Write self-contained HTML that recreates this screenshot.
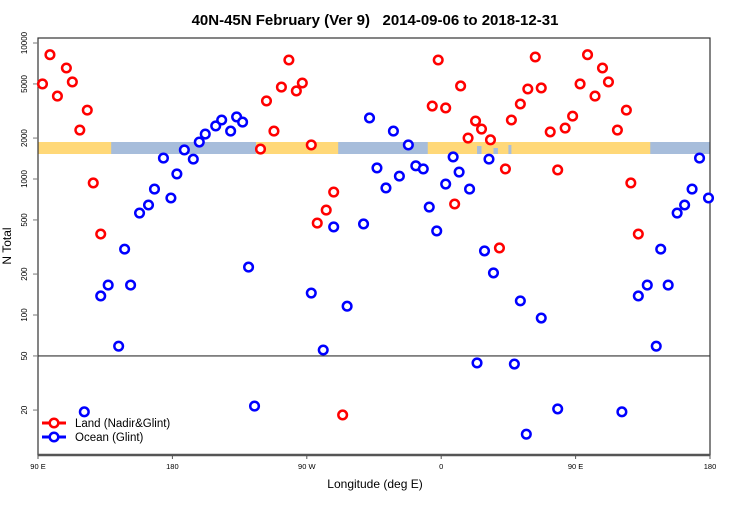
<!DOCTYPE html>
<html><head><meta charset="utf-8"><style>
body{margin:0;background:#fff;}
svg text{font-family:"Liberation Sans",sans-serif;}
</style></head><body>
<svg id="chart" width="750" height="500" xmlns="http://www.w3.org/2000/svg">
<text x="375" y="25" text-anchor="middle" font-size="15" font-weight="bold" style="white-space:pre">40N-45N February (Ver 9)   2014-09-06 to 2018-12-31</text>
<text transform="translate(11,246) rotate(-90)" text-anchor="middle" font-size="12">N Total</text>
<text x="375" y="488" text-anchor="middle" font-size="12">Longitude (deg E)</text>
<g id="band"></g>
<g id="axes"></g>
<g id="marks"></g>
<g>
<line x1="42" y1="423" x2="66" y2="423" stroke="#f00" stroke-width="3"/>
<circle cx="54" cy="423" r="4.3" fill="#fff" stroke="#f00" stroke-width="2.5"/>
<text x="75" y="427" font-size="11.5">Land (Nadir&amp;Glint)</text>
<line x1="42" y1="437" x2="66" y2="437" stroke="#00f" stroke-width="3"/>
<circle cx="54" cy="437" r="4.3" fill="#fff" stroke="#00f" stroke-width="2.5"/>
<text x="75" y="441" font-size="11.5">Ocean (Glint)</text>
</g>
</svg>
<script>
// longitude measured continuously from 90E (90..540 deg)
const landLon=[93,98,103,109,113,118,123,127,132,239,243,248,253,258,263,267,273,277,283,288,294,354,358,363,369,373,378,383,387,393,399,403,407,413,418,423,427,433,438,443,448,453,458,463,468,472,478,484,487,492];
const landN=[5000,8200,4070,6550,5170,2290,3210,935,394,1660,3750,2250,4740,7500,4440,5080,1780,474,591,802,18.4,3440,7500,3330,655,4830,2000,2670,2330,1940,311,1186,2715,3560,4590,7890,4670,2220,1165,2370,2900,5000,8200,4070,6550,5170,2290,3210,935,394];
const oceanLon=[121,132,137,144,148,152,158,164,168,174,179,183,188,194,198,202,209,213,219,223,227,231,235,273,281,288,297,308,312,317,323,328,332,338,343,348,352,357,363,368,372,379,384,389,392,395,409,413,417,427,438,481,492,498,504,507,512,518,523,528,533,539];
const oceanN=[19.4,138,166,59,305,166,562,644,843,1425,725,1090,1635,1400,1870,2140,2455,2715,2250,2860,2620,225,21.4,145,55.3,444,116,467,2810,1205,859,2250,1050,1780,1250,1186,622,415,918,1452,1125,843,44.4,296,1400,204,43.6,127,13.3,95,20.4,19.4,138,166,59,305,166,562,644,843,1425,725];
const yTicks=[10000,5000,2000,1000,500,200,100,50,20];
const xTickLon=[90,180,270,360,450,540];
const xTickLab=["90 E","180","90 W","0","90 E","180"];
const landSegs=[[90,139],[236,291],[351,500]];
const X0=38,X1=710,Y0=38,Y1=455;
const x=l=>X0+(l-90)*(X1-X0)/450;
const y=v=>43+(4-Math.log10(v))*136;
const NS="http://www.w3.org/2000/svg";
function mk(t,a,p){const e=document.createElementNS(NS,t);for(const k in a)e.setAttribute(k,a[k]);p.appendChild(e);return e;}
const band=document.getElementById('band');
mk('rect',{x:X0,y:142,width:X1-X0,height:12,fill:'#a7bddb'},band);
landSegs.forEach(s=>{mk('rect',{x:x(s[0]),y:142,width:x(s[1])-x(s[0]),height:12,fill:'#ffd878'},band);});
// small inland water bits
[[384,387,146],[395,398,148],[405,407,145]].forEach(s=>mk('rect',{x:x(s[0]),y:s[2],width:x(s[1])-x(s[0]),height:154-s[2],fill:'#a7bddb'},band));
const ax=document.getElementById('axes');
const frame=mk('rect',{x:X0,y:Y0,width:X1-X0,height:Y1-Y0,fill:'none',stroke:'#333','stroke-width':1.2},ax);


mk('line',{x1:X0,x2:X1,y1:Y1,y2:Y1,stroke:'#555','stroke-width':2.5},ax);
const l50=mk('line',{x1:X0,x2:X1,y1:y(50),y2:y(50),stroke:'#333','stroke-width':1.2},ax);


yTicks.forEach(v=>{const yy=y(v);
 mk('line',{x1:X0-5,x2:X0,y1:yy,y2:yy,stroke:'#777','stroke-width':1},ax);
 const t=mk('text',{transform:`translate(${X0-11},${yy}) rotate(-90)`,'text-anchor':'middle','font-size':8},ax);
 t.textContent=v;
 
 });
xTickLon.forEach((l,i)=>{const xx=x(l);
 mk('line',{x1:xx,x2:xx,y1:Y1,y2:Y1+4,stroke:'#555','stroke-width':1},ax);
 const t=mk('text',{x:xx,y:469,'text-anchor':'middle','font-size':7.5},ax);
 t.textContent=xTickLab[i];
 
 });
const mg=document.getElementById('marks');
function pts(L,N,c,name){L.forEach((l,i)=>{const e=mk('circle',{cx:x(l),cy:y(N[i]),r:4.3,fill:'#fff',stroke:c,'stroke-width':2.5},mg);
 
 });}
pts(landLon,landN,'#f00','land-point');
pts(oceanLon,oceanN,'#00f','ocean-point');
</script>
</body></html>
